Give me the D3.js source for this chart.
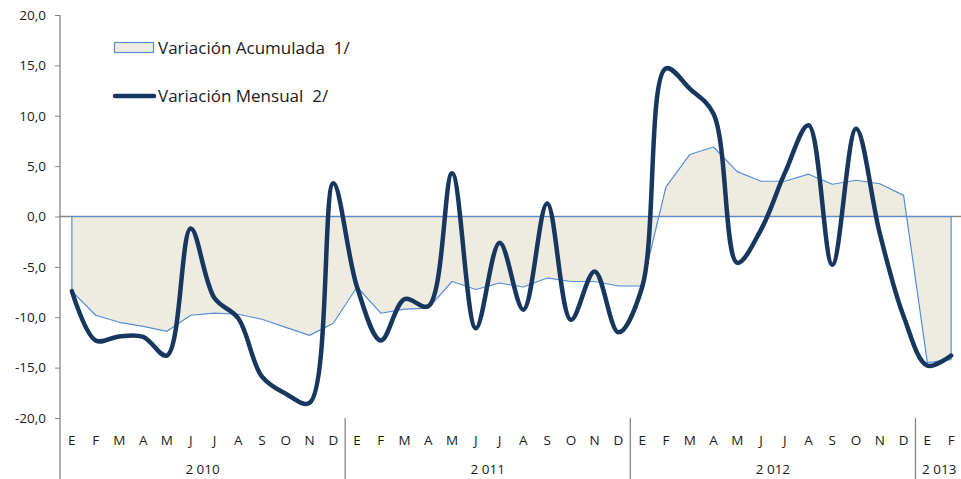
<!DOCTYPE html>
<html><head><meta charset="utf-8">
<script src="https://cdn.jsdelivr.net/npm/d3@7"></script>
<style>body{margin:0;background:#fff}svg{display:block}text{font-family:"Open Sans",sans-serif;fill:#1a1a1a}</style>
</head><body><svg id="c" width="961" height="479"></svg>
<script>
const months = ["E","F","M","A","M","J","J","A","S","O","N","D","E","F","M","A","M","J","J","A","S","O","N","D","E","F","M","A","M","J","J","A","S","O","N","D","E","F"];
const years = [{label:"2 010",start:0,end:12},{label:"2 011",start:12,end:24},{label:"2 012",start:24,end:36},{label:"2 013",start:36,end:38}];
const acumulada = [-7.4,-9.8,-10.5,-10.9,-11.4,-9.8,-9.6,-9.7,-10.2,-11.0,-11.8,-10.6,
  -7.0,-9.6,-9.2,-9.1,-6.45,-7.25,-6.6,-7.0,-6.1,-6.45,-6.45,-6.9,
  -6.9,2.95,6.15,6.9,4.45,3.5,3.5,4.2,3.2,3.6,3.25,2.1,
  -14.5,-14.2];
const mensual = [-7.4,-12.3,-11.9,-11.95,-13.8,-1.2,-8.1,-10.1,-15.9,-17.6,-18.5,3.3,
  -7.0,-12.3,-8.2,-8.9,4.3,-11.1,-2.6,-9.25,1.3,-10.25,-5.45,-11.5,
  -7.0,14.7,12.7,10.2,-4.6,-1.3,4.3,9.05,-4.8,8.7,-1.7,-9.9,
  -14.8,-13.8];
const yTicks = [-20,-15,-10,-5,0,5,10,15,20];
const legendLabels = [["Variación Acumulada","1/"],["Variación Mensual","2/"]];

const svg = d3.select("#c");
const x = d3.scaleBand().domain(d3.range(months.length)).range([60,963]);
const cx = i => x(i) + x.bandwidth()/2;
const y = d3.scaleLinear().domain([-20,20]).range([418,15]);
const grey = "#868686";

// area
const area = d3.area().x((d,i)=>cx(i)).y0(y(0)).y1(d=>y(d));
svg.append("path").attr("d", area(acumulada)).attr("fill","#EEECE1").attr("stroke","none");
svg.append("line").attr("x1",60).attr("x2",961).attr("y1",y(0)).attr("y2",y(0)).attr("stroke",grey).attr("stroke-width",1.3);
svg.append("path").attr("d", area(acumulada)).attr("fill","none").attr("stroke","#558ED5").attr("stroke-width",1.2).attr("stroke-linejoin","round");

// monthly line
const line = d3.line().x((d,i)=>cx(i)).y(d=>y(d)).curve(d3.curveCatmullRom.alpha(0.5));
svg.append("path").attr("d", line(mensual)).attr("fill","none").attr("stroke","#17375E").attr("stroke-width",4.5).attr("stroke-linejoin","round").attr("stroke-linecap","round");

// y axis
const yAxis = d3.axisLeft(y).tickValues(yTicks).tickSize(5).tickFormat(d=>d3.format(".1f")(d).replace(".",",").replace("−","-"));
const ga = svg.append("g").attr("transform","translate(60,0)").call(yAxis);
ga.select(".domain").remove();
ga.selectAll(".tick line").attr("stroke",grey);
ga.selectAll(".tick text").attr("x",-14).style("font-size","13.5px").style("font-family","'Open Sans',sans-serif").attr("fill","#1a1a1a");
svg.append("line").attr("x1",60).attr("x2",60).attr("y1",15).attr("y2",479).attr("stroke",grey).attr("stroke-width",1.3);

// month labels
svg.append("g").selectAll("text").data(months).join("text")
  .attr("x",(d,i)=>cx(i)).attr("y",445).attr("text-anchor","middle").style("font-size","13.5px").text(d=>d);
svg.append("g").selectAll("line").data(years.slice(1)).join("line")
  .attr("x1",d=>x(d.start)).attr("x2",d=>x(d.start)).attr("y1",418).attr("y2",479).attr("stroke",grey).attr("stroke-width",1.3);
svg.append("g").selectAll("text").data(years).join("text")
  .attr("x",d=>(x(d.start)+(d.end<months.length?x(d.end):963))/2).attr("y",474).attr("text-anchor","middle").style("font-size","13.5px").text(d=>d.label);

// legend
const lg = svg.append("g");
lg.append("rect").attr("x",114.5).attr("y",42.5).attr("width",39).attr("height",10).attr("fill","#EEECE1").attr("stroke","#558ED5").attr("stroke-width",1.2);
lg.append("line").attr("x1",115).attr("x2",154).attr("y1",96).attr("y2",96).attr("stroke","#17375E").attr("stroke-width",4.5).attr("stroke-linecap","round");
const lt = lg.selectAll("text").data(legendLabels).join("text").attr("x",158).attr("y",(d,i)=>i?102:54).style("font-size","17px");
lt.append("tspan").text(d=>d[0]);
lt.append("tspan").attr("dx",9).text(d=>d[1]);
</script></body></html>
